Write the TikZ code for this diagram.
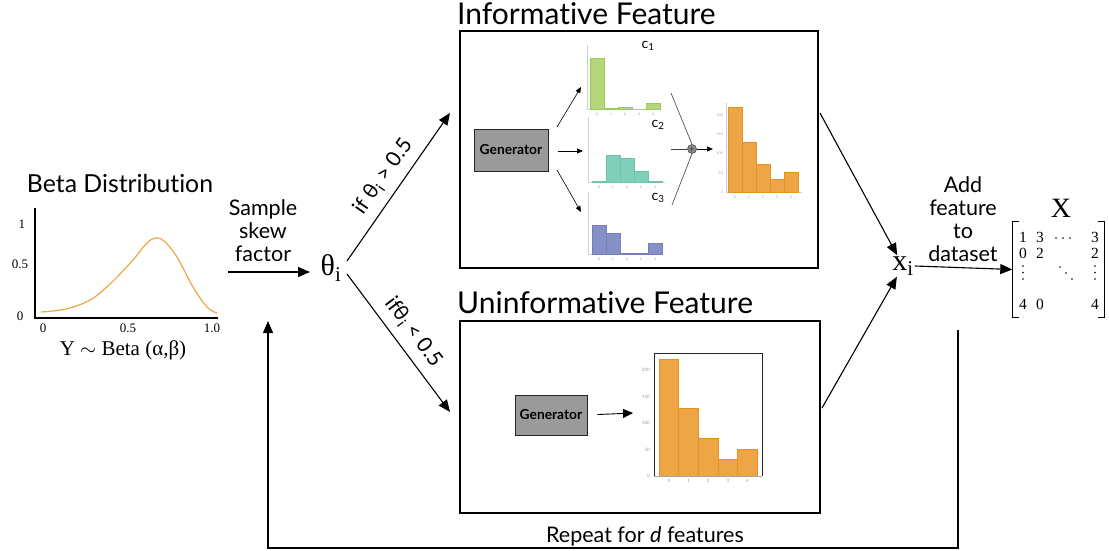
\documentclass[tikz,border=0pt]{standalone}
\usepackage{amsmath}
\usepackage{fontspec}
\setsansfont{Lato}[Ligatures=NoCommon]
\newfontfamily\serifgr{Liberation Serif}
\usetikzlibrary{arrows.meta}

\definecolor{cgreen}{HTML}{B4D77B}
\definecolor{cgreenE}{HTML}{9FCB5E}
\definecolor{cteal}{HTML}{80CFBA}
\definecolor{ctealE}{HTML}{6CC4AA}
\definecolor{cblue}{HTML}{8590C7}
\definecolor{cblueE}{HTML}{7480BE}
\definecolor{corange}{HTML}{EDA545}
\definecolor{cedge}{HTML}{E8921E}
\definecolor{gengray}{HTML}{9A9A9A}
\definecolor{axisgray}{HTML}{CFCFCF}
\definecolor{tickgray}{HTML}{9A9A9A}

\begin{document}
\begin{tikzpicture}[x=1pt,y=-1pt,
  lbl/.style={font=\sffamily\fontsize{21.5}{23}\selectfont, align=center, inner sep=0},
  ttl/.style={font=\sffamily\fontsize{30}{34}\selectfont, inner sep=0, anchor=base west},
  big/.style={-{Triangle[length=12pt,width=10pt]}, line width=1.1pt},
  mid/.style={-{Triangle[length=10pt,width=9pt]}, line width=0.9pt},
  small/.style={-{Triangle[length=6pt,width=5pt]}, line width=0.6pt},
  thinline/.style={line width=0.6pt, black!75},
  panel/.style={draw, line width=1.3pt},
  gen/.style={draw=black!85, fill=gengray, line width=0.8pt,
    font=\sffamily\bfseries\fontsize{13.8}{15}\selectfont, inner sep=0},
  tick/.style={font=\serifgr\fontsize{13}{13}\selectfont, inner sep=0},
  tiny/.style={font=\sffamily\fontsize{3.5}{4}\selectfont, text=tickgray, inner sep=0},
  axis/.style={draw=axisgray, line width=0.5pt},
  entry/.style={font=\serifgr\fontsize{15.5}{16}\selectfont, inner sep=0, anchor=base}
]
\useasboundingbox (0,0) rectangle (1109,551);

% ---------- Beta distribution ----------
\node[font=\sffamily\fontsize{24.8}{28}\selectfont, anchor=base, inner sep=0] (betatitle) at (120,192) {Beta Distribution};
\draw[line width=1.3pt] (35,208) -- (35,318) -- (218,318);
\node[tick] at (22,224) {1};
\node[tick] at (20,264) {0.5};
\node[tick] at (20,316) {0};
\node[tick] at (43,328) {0};
\node[tick] at (128,328) {0.5};
\node[tick] at (212,328) {1.0};
\draw[color=corange, line width=1.2pt] plot[smooth, tension=0.6] coordinates
  {(41,312) (66,309) (90,300) (110,284) (133,260) (146,244) (155,238) (164,241) (177,257) (193,287) (207,307) (217,313)};
\node[font=\serifgr\fontsize{21}{24}\selectfont, inner sep=0] (betalbl) at (123,350) {Y $\sim$ Beta (α,β)};

% ---------- sampling ----------
\node[font=\serifgr\fontsize{30}{32}\selectfont, inner sep=2pt] (theta) at (331,268) {θ\textsubscript{i}};
\coordinate (sampstart) at (228,272);
\node[lbl] (samplbl) at (263,231) {Sample\\skew\\factor};
\draw[big] (sampstart) -- (310,272);

\coordinate (upend) at (450,113);
\coordinate (downend) at (450,412);
\draw[big] (347,261) -- (upend)
  node[midway, sloped, above=5pt, font=\sffamily\fontsize{21}{22}\selectfont] {if θ\textsubscript{i} > 0.5};
\draw[big] (347,274) -- (downend)
  node[midway, sloped, above=5pt, font=\sffamily\fontsize{21}{22}\selectfont] {ifθ\textsubscript{i} < 0.5};

% ---------- Informative feature panel ----------
\node[ttl] (inftitle) at (457,25) {Informative Feature};
\draw[panel] (460,31) rectangle (818,268);
\node[gen, minimum width=74pt, minimum height=42pt] (igen) at (511,150) {Generator};

% component histograms
\draw[axis] (587,45) -- (587,109) -- (660,109);
\foreach \h [count=\k from 0] in {51,1,2,0,6}
  \filldraw[fill=cgreen, draw=cgreenE, line width=0.4pt] (590+14*\k,109) rectangle ++(14,-\h);
\foreach \k in {0,...,4} \node[tiny] at (597+14*\k,114) {\k};
\node[font=\sffamily\fontsize{14}{14}\selectfont, inner sep=0] (c1) at (648,46) {c\textsubscript{1}};

\draw[axis] (588,117) -- (588,182) -- (665,182);
\foreach \h [count=\k from 0] in {1,27,24,11,1}
  \filldraw[fill=cteal, draw=ctealE, line width=0.4pt] (592+14*\k,182) rectangle ++(14,-\h);
\foreach \k in {0,...,4} \node[tiny] at (599+14*\k,187) {\k};
\node[font=\sffamily\fontsize{14}{14}\selectfont, inner sep=0] (c2) at (658,125) {c\textsubscript{2}};

\draw[axis] (588,192) -- (588,254) -- (663,254);
\foreach \h [count=\k from 0] in {29,21,0.5,0.5,11}
  \filldraw[fill=cblue, draw=cblueE, line width=0.4pt] (592+14*\k,254) rectangle ++(14,-\h);
\foreach \k in {0,...,4} \node[tiny] at (599+14*\k,259) {\k};
\node[font=\sffamily\fontsize{14}{14}\selectfont, inner sep=0] (c3) at (658,198) {c\textsubscript{3}};

\coordinate (g1) at (557,127);
\coordinate (g2) at (558,151);
\coordinate (g3) at (557,170);
\coordinate (h1) at (581,87);
\coordinate (h2) at (583,151);
\coordinate (h3) at (581,212);
\draw[small] (g1) -- (h1);
\draw[small] (g2) -- (h2);
\draw[small] (g3) -- (h3);

% summation of components
\node[circle, draw=black!80, fill=black!45, line width=0.5pt, minimum size=9pt, inner sep=0,
      font=\fontsize{8}{8}\selectfont] (plus) at (692,149) {$+$};
\draw[thinline] (671,93) -- (plus.north);
\draw[thinline] (672,205) -- (plus.south);
\draw[thinline] (671,149) -- (plus.west);
\coordinate (mixin) at (713,149);
\draw[small] (plus.east) -- (mixin);

% mixture histogram
\draw[axis] (726,103) -- (726,192) -- (802,192);
\foreach \h [count=\k from 0] in {85,50,28,13,20}
  \filldraw[fill=corange, draw=cedge, line width=0.5pt] (728+14*\k,192) rectangle ++(14,-\h);
\foreach \v/\y in {200/115,150/134,100/153.5,50/173,0/192}
  \node[tiny, anchor=east] at (723,\y) {\v};
\foreach \k in {0,...,4} \node[tiny] at (735+14*\k,197) {\k};

% ---------- Uninformative feature panel ----------
\node[ttl] (uninftitle) at (457,313) {Uninformative Feature};
\draw[panel] (460,321) rectangle (820,513);
\node[gen, minimum width=72pt, minimum height=40pt] (ugen) at (551,415) {Generator};
\coordinate (uhist) at (633,413);
\draw[mid, shorten <=10pt] (ugen.east) -- (uhist);

\draw[line width=0.6pt, black!85] (654,476) -- (654,353) -- (762,353) -- (762,476);
\foreach \h [count=\k from 0] in {116.6,68,38,17,26.5}
  \filldraw[fill=corange, draw=cedge, line width=0.6pt] (659+19.6*\k,476) rectangle ++(19.6,-\h);
\draw[line width=0.8pt, black!35] (654,476) -- (762,476);
\foreach \v/\y in {200/370,150/396.5,100/423,50/449.5,0/476}
  \node[tiny, anchor=east, font=\sffamily\fontsize{4.5}{5}\selectfont] at (650,\y) {\v};
\foreach \k in {0,...,4}
  \node[tiny, font=\sffamily\fontsize{4.5}{5}\selectfont] at (669+19.6*\k,481) {\k};

% ---------- collecting the feature ----------
\node[font=\serifgr\fontsize{30}{32}\selectfont, inner sep=1pt] (xi) at (903,266) {x\textsubscript{i}};
\coordinate (infout) at (820,113);
\coordinate (uninfout) at (822,408);
\draw[big] (infout) -- (xi);
\draw[big] (uninfout) -- (xi);

\node[lbl] (addlbl) at (963,219) {Add\\feature\\to\\dataset};

% dataset matrix X
\node[minimum width=92pt, minimum height=95pt, inner sep=0] (M) at (1058.5,269.5) {};
\draw[line width=0.8pt] ([xshift=7pt]M.north west) -- (M.north west) -- (M.south west) -- ([xshift=7pt]M.south west);
\draw[line width=0.8pt] ([xshift=-7pt]M.north east) -- (M.north east) -- (M.south east) -- ([xshift=-7pt]M.south east);
\node[font=\serifgr\fontsize{28}{30}\selectfont, inner sep=0] (Xlbl) at (1061,208) {X};
\foreach \t/\x/\y in {1/1023/242, 3/1040/242, 3/1095/242,
                      0/1023/258, 2/1040/258, 2/1095/258,
                      4/1023/309, 0/1040/309, 4/1095/309}
  \node[entry] at (\x,\y) {\t};
% ellipsis dots of the matrix
\foreach \x/\y in {1056/238, 1063/238, 1070/238,
                   1023/266, 1023/272.5, 1023/279,
                   1095/266, 1095/272.5, 1095/279,
                   1060/267, 1066/273, 1072/279}
  \fill (\x,\y) circle (0.9pt);
\draw[big] (xi.east) -- (M.west);

% ---------- repeat loop ----------
\coordinate (loopstart) at (958,330);
\coordinate (loopend) at (268,321);
\draw[big] (loopstart) -- (958,548) -- (268,548) -- (loopend);
\node[lbl, anchor=base] (repeatlbl) at (645,542) {Repeat for \textit{d} features};

\end{tikzpicture}
\end{document}
